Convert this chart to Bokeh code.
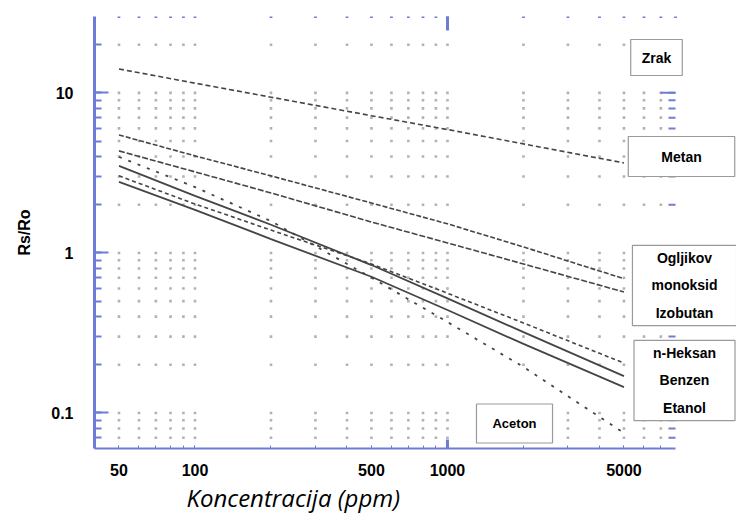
import numpy as np
from bokeh.plotting import figure
from bokeh.models import LogAxis, FixedTicker, Label, Range1d, CustomJSTickFormatter
from bokeh.embed import file_html
from bokeh.resources import INLINE

# ---- data ----
conc = [50, 100, 200, 500, 1000, 2000, 5000]
metan = [14.1, 11.5, 9.4, 7.2, 5.9, 4.8, 3.65]
ogljikov_monoksid = [5.46, 4.04, 3.03, 2.05, 1.52, 1.09, 0.69]
izobutan = [4.34, 3.21, 2.37, 1.56, 1.155, 0.853, 0.57]
n_heksan = [3.03, 2.02, 1.39, 0.853, 0.56, 0.365, 0.205]
benzen = [3.50, 2.27, 1.50, 0.84, 0.52, 0.32, 0.17]
etanol = [2.78, 1.86, 1.22, 0.71, 0.44, 0.27, 0.145]
aceton = [3.98, 2.58, 1.58, 0.70, 0.37, 0.194, 0.075]

x_ticks = [50, 100, 500, 1000, 5000]
y_ticks = [0.1, 1, 10]
x_minor = [50, 60, 70, 80, 90, 100, 200, 300, 400, 500, 600, 700, 800, 900,
           1000, 2000, 3000, 4000, 5000, 6000, 7000]
y_minor = [0.07, 0.08, 0.09, 0.1, 0.2, 0.3, 0.4, 0.5, 0.6, 0.7, 0.8, 0.9,
           1, 2, 3, 4, 5, 6, 7, 8, 9, 10, 20]
X0, X_EDGE = 40, 8000      # axis extent
Y0, Y1 = 0.06, 30

# ---- style / layout ----
BLUE = "#6f7cd6"
LINE = "#454545"
GRID = "#b2b2b2"
FONT = "Liberation Sans"

W, H = 736, 513
FL, FT, FB = 94, 16, 448   # frame left/top/bottom in canvas px
AX_R = 675                 # px where the x axis ends (8000)
px_dec = (AX_R - FL) / np.log10(X_EDGE / X0)
X1 = X0 * 10 ** ((W - FL) / px_dec)   # frame runs to the canvas edge (room for boxes)

p = figure(width=W, height=H, x_axis_type="log", y_axis_type="log",
           x_range=Range1d(X0, X1), y_range=Range1d(Y0, Y1),
           output_backend="svg", toolbar_location=None,
           min_border_left=FL, min_border_right=0,
           min_border_top=FT, min_border_bottom=H - FB)
p.outline_line_color = None
p.xgrid.visible = False
p.ygrid.visible = False
p.background_fill_color = "white"
p.border_fill_color = "white"

def xd(cx):
    return X0 * 10 ** ((cx - FL) / px_dec)

def yd(cy):
    return 10 ** (np.log10(Y1) - (cy - FT) / (FB - FT) * np.log10(Y1 / Y0))

# grid drawn as dots at the intersections
gx = [x for y in y_minor for x in x_minor]
gy = [y for y in y_minor for x in x_minor]
p.scatter(gx, gy, marker="square", size=2.6, color=GRID, line_color=None)
p.scatter(x_minor + [X_EDGE], [Y1] * (len(x_minor) + 1), marker="square", size=2.8,
          color=BLUE, line_color=None)

# right edge inward ticks
p.scatter([xd(AX_R - 3.5)] * len(y_minor), y_minor, marker="dash", size=7,
          line_color=BLUE, line_width=2)
p.scatter([xd(AX_R - 7.5)] * len(y_ticks), y_ticks, marker="dash", size=15,
          line_color=BLUE, line_width=2)

# series
p.line(conc, metan, line_color=LINE, line_width=1.6, line_dash="5 3")
p.line(conc, ogljikov_monoksid, line_color=LINE, line_width=1.6, line_dash="5 2")
p.line(conc, izobutan, line_color=LINE, line_width=1.6, line_dash="6 2")
p.line(conc, n_heksan, line_color=LINE, line_width=1.6, line_dash="4 3")
p.line(conc, benzen, line_color=LINE, line_width=1.8)
p.line(conc, etanol, line_color=LINE, line_width=1.8)
p.line(conc, aceton, line_color=LINE, line_width=1.8, line_dash="3 7")

num_fmt = CustomJSTickFormatter(code="return tick.toString()")
empty_fmt = CustomJSTickFormatter(code="return ''")

# left axis
ya = p.left[0]
ya.ticker = FixedTicker(ticks=y_ticks, minor_ticks=y_minor)
ya.formatter = num_fmt
ya.axis_line_color = BLUE
ya.axis_line_width = 3
ya.major_tick_line_color = BLUE
ya.major_tick_line_width = 2
ya.major_tick_in = 14
ya.major_tick_out = 0
ya.minor_tick_line_color = BLUE
ya.minor_tick_line_width = 2
ya.minor_tick_in = 7
ya.minor_tick_out = 0
ya.major_label_text_font = FONT
ya.major_label_text_font_style = "bold"
ya.major_label_text_font_size = "16px"
ya.major_label_text_color = "black"
ya.major_label_standoff = 21
ya.axis_label = "Rs/Ro"
ya.axis_label_text_font = FONT
ya.axis_label_text_font_style = "bold"
ya.axis_label_text_font_size = "16px"
ya.axis_label_text_color = "black"
ya.axis_label_standoff = 15

# bottom axis
xa = p.below[0]
xa.ticker = FixedTicker(ticks=x_ticks, minor_ticks=x_minor)
xa.formatter = num_fmt
xa.bounds = (X0, X_EDGE)
xa.axis_line_color = BLUE
xa.axis_line_width = 2
xa.major_tick_line_color = BLUE
xa.major_tick_line_width = 1
xa.major_tick_in = 3
xa.major_tick_out = 0
xa.minor_tick_line_color = BLUE
xa.minor_tick_line_width = 1
xa.minor_tick_in = 3
xa.minor_tick_out = 0
xa.major_label_text_font = FONT
xa.major_label_text_font_style = "bold"
xa.major_label_text_font_size = "16px"
xa.major_label_text_color = "black"
xa.major_label_standoff = 15

# top axis: 1000 tick only
ta = LogAxis(ticker=FixedTicker(ticks=[x_ticks[3]], minor_ticks=[]), formatter=empty_fmt,
             axis_line_color=None, major_tick_line_color=BLUE, major_tick_line_width=3,
             major_tick_in=14, major_tick_out=0, minor_tick_line_color=None,
             major_label_standoff=0, major_label_text_font_size="1px")
p.add_layout(ta, "above")

# bottom 1000 tick (longer)
p.segment(x0=[x_ticks[3]], y0=[Y0], x1=[x_ticks[3]], y1=[yd(FB - 9)],
          line_color=BLUE, line_width=3)

# x axis title (as a title below the axis)
p.title.text = "Koncentracija (ppm)"
p.title_location = "below"
p.title.align = "left"
p.title.offset = 92
p.title.standoff = 0
p.title.text_font = "Open Sans"
p.title.text_font_style = "italic"
p.title.text_font_size = "24px"
p.title.text_color = "black"

def box(cx, cy, txt, h, v, size="14px"):
    # padding order (left, right, top, bottom)
    return Label(x=xd(cx), y=yd(cy), text=txt, text_align="center", text_baseline="middle",
                 text_font=FONT, text_font_style="bold", text_font_size=size,
                 text_color="black", text_line_height=1.7,
                 background_fill_color="white", border_line_color="#9a9a9a",
                 border_line_width=1.2, padding=(h, h, v, v))

p.add_layout(box(656, 57, "Zrak", 11, 10))
p.add_layout(box(681, 156, "Metan", 33, 12))
p.add_layout(box(684, 285, "Ogljikov\nmonoksid\nIzobutan", 19, 5))
p.add_layout(box(684, 380, "n-Heksan\nBenzen\nEtanol", 19, 5))
p.add_layout(box(514, 423, "Aceton", 16, 12, "13px"))

open("out.html", "w").write(file_html(p, INLINE))
